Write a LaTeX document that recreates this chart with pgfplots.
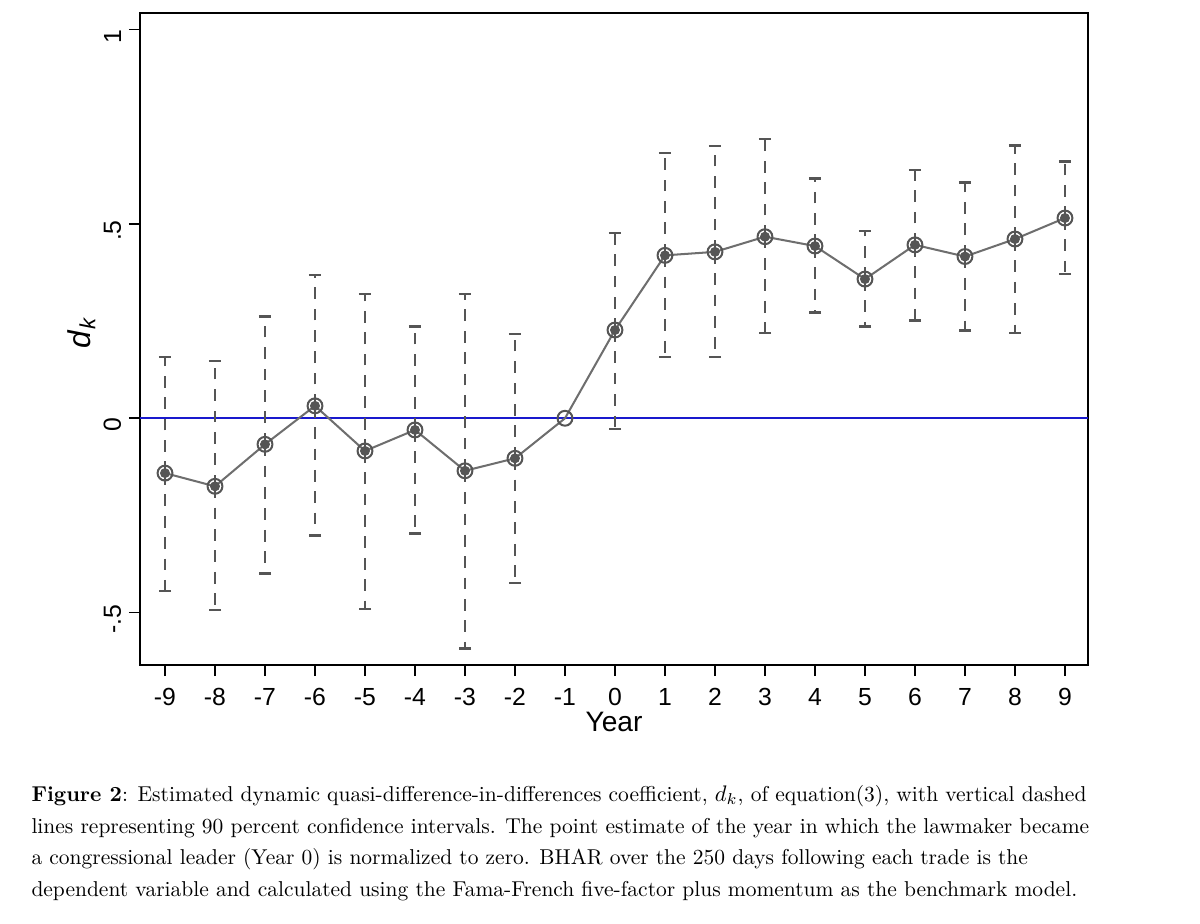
\documentclass[border=0pt]{standalone}
\usepackage{pgfplots}
\pgfplotsset{compat=1.18}
\usepackage{pgfplotstable}
\usepackage{fontspec}
\newfontfamily\arial{Liberation Sans}
\definecolor{ciGray}{RGB}{85,85,85}
\definecolor{lnGray}{RGB}{110,110,110}
\definecolor{zBlue}{RGB}{25,25,205}

\pgfplotstableread{
x y lo hi
-9 -0.141 -0.444 0.158
-8 -0.175 -0.493 0.147
-7 -0.067 -0.399 0.262
-6 0.032 -0.302 0.369
-5 -0.084 -0.491 0.320
-4 -0.030 -0.296 0.236
-3 -0.135 -0.592 0.320
-2 -0.103 -0.424 0.217
0 0.227 -0.028 0.477
1 0.419 0.158 0.682
2 0.428 0.158 0.700
3 0.467 0.219 0.718
4 0.443 0.272 0.617
5 0.358 0.236 0.482
6 0.446 0.251 0.639
7 0.416 0.226 0.606
8 0.461 0.219 0.702
9 0.515 0.371 0.660
}\ci

\pgfplotstableread{
x y
-9 -0.141
-8 -0.175
-7 -0.067
-6 0.032
-5 -0.084
-4 -0.030
-3 -0.135
-2 -0.103
-1 0.000
0 0.227
1 0.419
2 0.428
3 0.467
4 0.443
5 0.358
6 0.446
7 0.416
8 0.461
9 0.515
}\est

\begin{document}
\begin{tikzpicture}
\path[use as bounding box] (0,0) rectangle (533.33pt,410.22pt);
\begin{axis}[
  at={(62.22pt,114.67pt)}, anchor=south west,
  scale only axis,
  width=421.33pt, height=289.78pt,
  xmin=-9.5, xmax=9.46,
  ymin=-0.6345, ymax=1.0424,
  axis line style={black, line width=0.9pt},
  tick style={black, line width=0.7pt},
  tick align=outside,
  major tick length=4.9pt,
  xtick={-9,...,9},
  xticklabels={-9,-8,-7,-6,-5,-4,-3,-2,-1,0,1,2,3,4,5,6,7,8,9},
  ytick={-0.5,0,0.5,1},
  yticklabels={-.5,0,.5,1},
  xtick pos=bottom, ytick pos=left,
  tick label style={font=\arial\fontsize{11}{13}\selectfont},
  xticklabel style={yshift=-2pt},
  yticklabel style={rotate=90, anchor=south, xshift=-3pt},
  xlabel={Year},
  xlabel style={font=\arial\fontsize{12.5}{14}\selectfont, yshift=4pt},
  ylabel={\textit{d}\textsubscript{\textit{k}}},
  ylabel style={font=\arial\fontsize{14}{16}\selectfont, at={(axis description cs:-0.0617,0.51)}, anchor=center},
  clip=false,
]
\addplot[zBlue, line width=0.9pt, mark=none] coordinates {(-9.5,0) (9.46,0)};
\addplot[ciGray, only marks, mark=none,
  error bars/.cd, y dir=both, y explicit,
  error bar style={ciGray, line width=1.2pt, dash pattern=on 5.2pt off 4.3pt},
  error mark options={ciGray, rotate=90, line width=1.1pt, solid, mark size=2.7pt}]
  table[x=x, y=y, y error plus expr=\thisrow{hi}-\thisrow{y}, y error minus expr=\thisrow{y}-\thisrow{lo}] {\ci};
\addplot[lnGray, line width=0.9pt, mark=o, mark size=3.3pt, mark options={ciGray, line width=0.9pt, solid}] table[x=x, y=y] {\est};
\end{axis}
\node[anchor=base west, align=left, inner sep=0pt, font=\fontsize{9.55pt}{14.1pt}\selectfont] at (13.8pt,11.7pt)
{\textbf{Figure 2}: Estimated dynamic quasi-difference-in-differences coefficient, $d_k$, of equation(3), with vertical dashed\\
lines representing 90 percent confidence intervals. The point estimate of the year in which the lawmaker became\\
a congressional leader (Year 0) is normalized to zero. BHAR over the 250 days following each trade is the\\
dependent variable and calculated using the Fama-French five-factor plus momentum as the benchmark model.};
\end{tikzpicture}
\end{document}
